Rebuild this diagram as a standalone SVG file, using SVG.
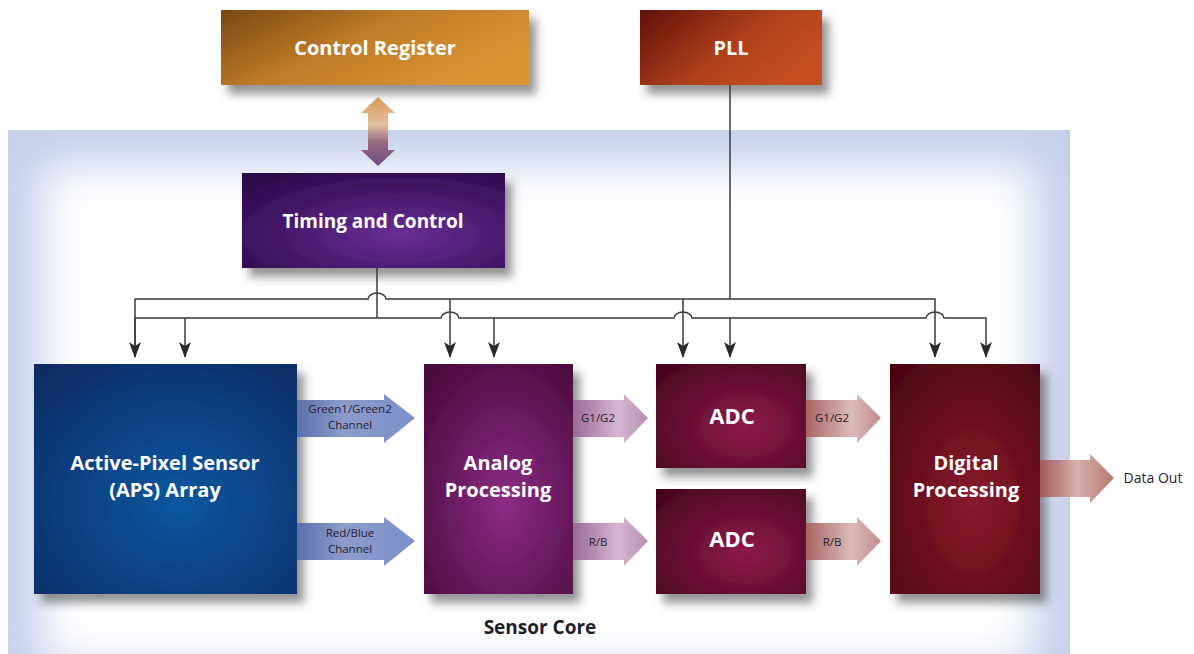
<svg xmlns="http://www.w3.org/2000/svg" width="1194" height="654" viewBox="0 0 1194 654">
<defs>
<style>
.t{font-family:"Open Sans","Noto Sans","Liberation Sans",sans-serif;font-weight:bold;fill:#fff;text-anchor:middle}
.s{font-family:"Open Sans","Noto Sans","Liberation Sans",sans-serif;font-size:11.5px;fill:#2a2030;text-anchor:middle}
.ln{fill:none;stroke:#3a3a3a;stroke-width:1.5}
</style>
<filter id="sh" x="-20%" y="-20%" width="150%" height="150%">
<feDropShadow dx="7" dy="9" stdDeviation="5" flood-color="#3a3a40" flood-opacity="0.55"/>
</filter>
<filter id="bl" x="-20%" y="-20%" width="140%" height="140%"><feGaussianBlur stdDeviation="22"/></filter>
<clipPath id="cc"><rect x="8" y="130" width="1062" height="524"/></clipPath>
<linearGradient id="gCR" x1="0" y1="0" x2="1" y2="0.5"><stop offset="0" stop-color="#7a4814"/><stop offset="0.5" stop-color="#c07c28"/><stop offset="1" stop-color="#da9432"/></linearGradient>
<linearGradient id="gPLL" x1="0" y1="0" x2="1" y2="0.5"><stop offset="0" stop-color="#5e1208"/><stop offset="0.6" stop-color="#b0401c"/><stop offset="1" stop-color="#c44e22"/></linearGradient>
<radialGradient id="gTC" cx="0.6" cy="0.65" r="0.8"><stop offset="0" stop-color="#6a2e96"/><stop offset="1" stop-color="#2a0848"/></radialGradient>
<radialGradient id="gAPS" cx="0.55" cy="0.6" r="0.8"><stop offset="0" stop-color="#0f57a0"/><stop offset="1" stop-color="#072a62"/></radialGradient>
<radialGradient id="gAN" cx="0.55" cy="0.6" r="0.8"><stop offset="0" stop-color="#8c2c84"/><stop offset="1" stop-color="#440838"/></radialGradient>
<radialGradient id="gADC" cx="0.6" cy="0.6" r="0.8"><stop offset="0" stop-color="#8e1a4a"/><stop offset="1" stop-color="#46041e"/></radialGradient>
<radialGradient id="gDP" cx="0.55" cy="0.6" r="0.8"><stop offset="0" stop-color="#8a1a2c"/><stop offset="1" stop-color="#480410"/></radialGradient>
<linearGradient id="gBA" x1="0" y1="0" x2="1" y2="0"><stop offset="0" stop-color="#5a70aa"/><stop offset="0.4" stop-color="#8c9ccc"/><stop offset="1" stop-color="#7a90c8"/></linearGradient>
<linearGradient id="gPA" x1="0" y1="0" x2="1" y2="0"><stop offset="0" stop-color="#9a6a96"/><stop offset="0.6" stop-color="#d6b6d0"/><stop offset="1" stop-color="#b890b4"/></linearGradient>
<linearGradient id="gRA" x1="0" y1="0" x2="1" y2="0"><stop offset="0" stop-color="#a86464"/><stop offset="0.6" stop-color="#dcbaba"/><stop offset="1" stop-color="#c08c8c"/></linearGradient>
<linearGradient id="gDA" x1="0" y1="0" x2="1" y2="0"><stop offset="0" stop-color="#a05a5a"/><stop offset="0.5" stop-color="#d6b0ac"/><stop offset="1" stop-color="#b87870"/></linearGradient>
<linearGradient id="gDbl" x1="0" y1="0" x2="0" y2="1"><stop offset="0" stop-color="#d89a58"/><stop offset="0.4" stop-color="#e6c0a0"/><stop offset="0.65" stop-color="#9a6a80"/><stop offset="1" stop-color="#6e4a86"/></linearGradient>
<marker id="ah" viewBox="0 0 16 12" refX="15" refY="6" markerWidth="16" markerHeight="12" markerUnits="userSpaceOnUse" orient="auto"><path d="M0,0 L16,6 L0,12 L4,6 z" fill="#2a2a2a"/></marker>
</defs>

<g id="sensor-core">
<rect x="8" y="130" width="1062" height="524" fill="#c6d0ea"/>
<g clip-path="url(#cc)"><rect x="42" y="165" width="992" height="500" fill="#fff" filter="url(#bl)"/></g>
<text class="t" x="540" y="634" style="fill:#1c1c2c;font-size:19px">Sensor Core</text>
</g>

<g id="control-register">
<rect x="221" y="10" width="308" height="75" fill="url(#gCR)" filter="url(#sh)"/>
<text class="t" x="375" y="55" font-size="20">Control Register</text>
</g>

<g id="pll">
<rect x="640" y="10" width="182" height="75" fill="url(#gPLL)" filter="url(#sh)"/>
<text class="t" x="731" y="55" font-size="20">PLL</text>
</g>

<g id="timing-control">
<rect x="242" y="173" width="263" height="95" fill="url(#gTC)" filter="url(#sh)"/>
<text class="t" x="373" y="228" font-size="19">Timing and Control</text>
</g>

<g id="aps-array">
<rect x="34" y="364" width="263" height="230" fill="url(#gAPS)" filter="url(#sh)"/>
<text class="t" x="165" y="470" font-size="20">Active-Pixel Sensor</text>
<text class="t" x="165" y="497" font-size="20">(APS) Array</text>
</g>

<g id="analog-processing">
<rect x="424" y="364" width="149" height="230" fill="url(#gAN)" filter="url(#sh)"/>
<text class="t" x="498" y="470" font-size="20">Analog</text>
<text class="t" x="498" y="497" font-size="20">Processing</text>
</g>

<g id="adc-1">
<rect x="656" y="364" width="150" height="104" fill="url(#gADC)" filter="url(#sh)"/>
<text class="t" x="732" y="424" font-size="22">ADC</text>
</g>

<g id="adc-2">
<rect x="656" y="489" width="150" height="105" fill="url(#gADC)" filter="url(#sh)"/>
<text class="t" x="732" y="547" font-size="22">ADC</text>
</g>

<g id="digital-processing">
<rect x="890" y="364" width="150" height="230" fill="url(#gDP)" filter="url(#sh)"/>
<text class="t" x="966" y="470" font-size="20">Digital</text>
<text class="t" x="966" y="497" font-size="20">Processing</text>
</g>

<g id="connectors">
<path d="M378,97 L395,113 L388,113 L388,150 L395,150 L378,166 L361,150 L368,150 L368,113 L361,113 Z" fill="url(#gDbl)"/>

<path d="M297,400 L384,400 L384,394 L415,418 L384,443 L384,437 L297,437 Z" fill="url(#gBA)"/>
<text class="s" x="350" y="413">Green1/Green2</text>
<text class="s" x="350" y="429">Channel</text>
<path d="M297,523 L384,523 L384,517 L415,541 L384,566 L384,560 L297,560 Z" fill="url(#gBA)"/>
<text class="s" x="350" y="537">Red/Blue</text>
<text class="s" x="350" y="553">Channel</text>

<path d="M573,400 L624,400 L624,394 L648,418 L624,443 L624,437 L573,437 Z" fill="url(#gPA)"/>
<text class="s" x="598" y="422">G1/G2</text>
<path d="M573,523 L624,523 L624,517 L648,541 L624,566 L624,560 L573,560 Z" fill="url(#gPA)"/>
<text class="s" x="598" y="546">R/B</text>

<path d="M806,400 L857,400 L857,394 L881,418 L857,443 L857,437 L806,437 Z" fill="url(#gRA)"/>
<text class="s" x="832" y="422">G1/G2</text>
<path d="M806,523 L857,523 L857,517 L881,541 L857,566 L857,560 L806,560 Z" fill="url(#gRA)"/>
<text class="s" x="832" y="546">R/B</text>

<path d="M1040,460 L1090,460 L1090,454 L1114,478 L1090,503 L1090,497 L1040,497 Z" fill="url(#gDA)"/>
<text class="s" x="1153" y="483" style="font-size:14px">Data Out</text>

<path class="ln" d="M377,268 L377,318"/>
<path class="ln" d="M730,85 L730,299"/>
<path class="ln" d="M135,357 L135,299 L368,299 A9,6 0 0 1 386,299 L935,299 L935,357" marker-end="url(#ah)"/>
<path class="ln" d="M135,318 L441,318 A9,6 0 0 1 459,318 L674,318 A9,6 0 0 1 692,318 L926,318 A9,6 0 0 1 944,318 L986,318 L986,357" marker-end="url(#ah)"/>
<path class="ln" d="M185,318 L185,357" marker-end="url(#ah)"/>
<path class="ln" d="M450,299 L450,357" marker-end="url(#ah)"/>
<path class="ln" d="M494,318 L494,357" marker-end="url(#ah)"/>
<path class="ln" d="M683,299 L683,357" marker-end="url(#ah)"/>
<path class="ln" d="M730,318 L730,357" marker-end="url(#ah)"/>
<path class="ln" d="M135,318 L135,357" marker-end="url(#ah)"/>
</g>
</svg>
